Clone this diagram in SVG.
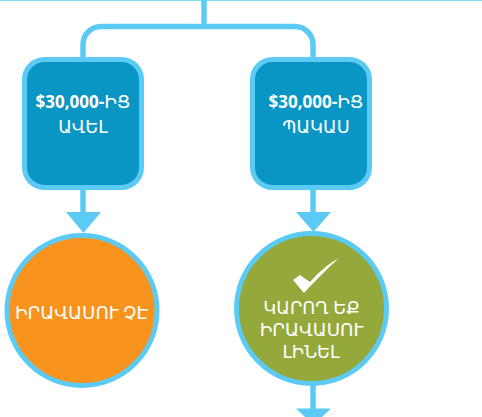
<svg xmlns="http://www.w3.org/2000/svg" width="482" height="417" viewBox="0 0 482 417">
<style>
.ln{fill:none;stroke:#5bcbf5;stroke-width:5.5}
.hd{fill:#5bcbf5}
.bx{fill:#0a96c4;stroke:#5bcbf5;stroke-width:5}
.c{stroke:#5bcbf5;stroke-width:5}
text{font-family:"Noto Sans","DejaVu Sans","Liberation Sans",sans-serif;font-size:18.300px;fill:#fff;text-anchor:middle}
.b{font-weight:700;font-size:17px}
.r{font-weight:400;font-size:18.300px}
.t{font-size:17.800px}
</style>
<rect width="482" height="417" fill="#fff"/>
<g id="connectors">
<rect x="0" y="0" width="482" height="1" fill="#7fdcf8"/>
<path class="ln" d="M204 0V26.5"/>
<path class="ln" d="M83 58V44.500A18 18 0 0 1 101 26.500H295A18 18 0 0 1 313 44.500V58"/>
<path class="ln" d="M83 188V213"/>
<path class="hd" d="M66 212H101L83.500 233Z"/>
<path class="ln" d="M313 188V213"/>
<path class="hd" d="M296 212H331L313.500 232Z"/>
<path class="ln" d="M313 385V409"/>
<path class="hd" d="M296 408.500H331L322 417H305Z"/>
</g>
<g id="node-more">
<rect class="bx" x="24.500" y="59.500" width="117" height="128" rx="20"/>
<text x="83" y="108" class="b">$30,000-<tspan class="r">ԻՑ</tspan></text>
<text x="83" y="133" class="t">ԱՎԵԼ</text>
</g>
<g id="node-less">
<rect class="bx" x="252.500" y="59.500" width="117" height="128" rx="20"/>
<text x="316" y="108" class="b">$30,000-<tspan class="r">ԻՑ</tspan></text>
<text x="316" y="133" class="t">ՊԱԿԱՍ</text>
</g>
<g id="node-not-eligible">
<circle class="c" cx="82" cy="310.500" r="75" fill="#f8931d"/>
<text x="81.500" y="318.500">ԻՐԱՎԱՍՈՒ ՉԷ</text>
</g>
<g id="node-eligible">
<circle class="c" cx="311.500" cy="308.500" r="75" fill="#95a83b"/>
<path fill="#fff" d="M293 280L300 275L310 282C318 273 328 264 339 258C327 269 314 282 304 293Z"/>
<text x="311.500" y="314" class="t">ԿԱՐՈՂ ԵՔ</text>
<text x="311.500" y="335.500">ԻՐԱՎԱՍՈՒ</text>
<text x="311" y="358" class="t">ԼԻՆԵԼ</text>
</g>
</svg>
